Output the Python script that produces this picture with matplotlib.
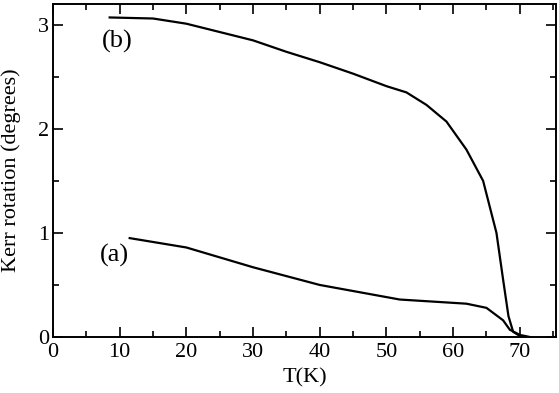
import numpy as np
import matplotlib.pyplot as plt
from matplotlib.ticker import MultipleLocator

# Kerr rotation vs temperature, curves (a) and (b)
temp_a = [11.5, 20, 30, 40, 52, 62, 65, 67.5, 68.5, 70, 71.5]
kerr_a = [0.95, 0.86, 0.67, 0.50, 0.36, 0.32, 0.28, 0.16, 0.07, 0.02, 0.0]

temp_b = [8.5, 15, 20, 25, 30, 35, 40, 45, 50, 53, 56, 59, 62, 64.5, 66.5,
          67.5, 68.3, 69, 70, 71]
kerr_b = [3.07, 3.06, 3.01, 2.93, 2.85, 2.74, 2.64, 2.53, 2.41, 2.35, 2.23,
          2.07, 1.80, 1.50, 1.00, 0.55, 0.20, 0.05, 0.01, 0.0]

plt.rcParams['font.family'] = ['Liberation Serif', 'DejaVu Serif']

fig = plt.figure(figsize=(5.59, 3.93), dpi=100)
ax = fig.add_axes([0.0948, 0.1425, 0.8995, 0.8475])

ax.plot(temp_a, kerr_a, color='black', lw=1.6)
ax.plot(temp_b, kerr_b, color='black', lw=1.6)

ax.text(7.3, 2.84, '(b)', fontsize=19, va='center')
ax.text(7.1, 0.78, '(a)', fontsize=19, va='center')

ax.set_xlim(0, 75.4)
ax.set_ylim(0, 3.2)
ax.xaxis.set_major_locator(MultipleLocator(10))
ax.xaxis.set_minor_locator(MultipleLocator(5))
ax.yaxis.set_major_locator(MultipleLocator(1))
ax.yaxis.set_minor_locator(MultipleLocator(0.5))
ax.tick_params(which='both', direction='in', top=True, right=True,
               labelsize=16, width=1.2)
ax.tick_params(axis='x', pad=4)
ax.tick_params(axis='y', pad=3)
ax.tick_params(which='major', length=7)
ax.tick_params(which='minor', length=4)
for s in ax.spines.values():
    s.set_linewidth(1.4)

ax.set_xlabel('T(K)', fontsize=16, labelpad=5)
ax.set_ylabel('Kerr rotation (degrees)', fontsize=16, labelpad=12)

fig.savefig('out.png', dpi=100)
